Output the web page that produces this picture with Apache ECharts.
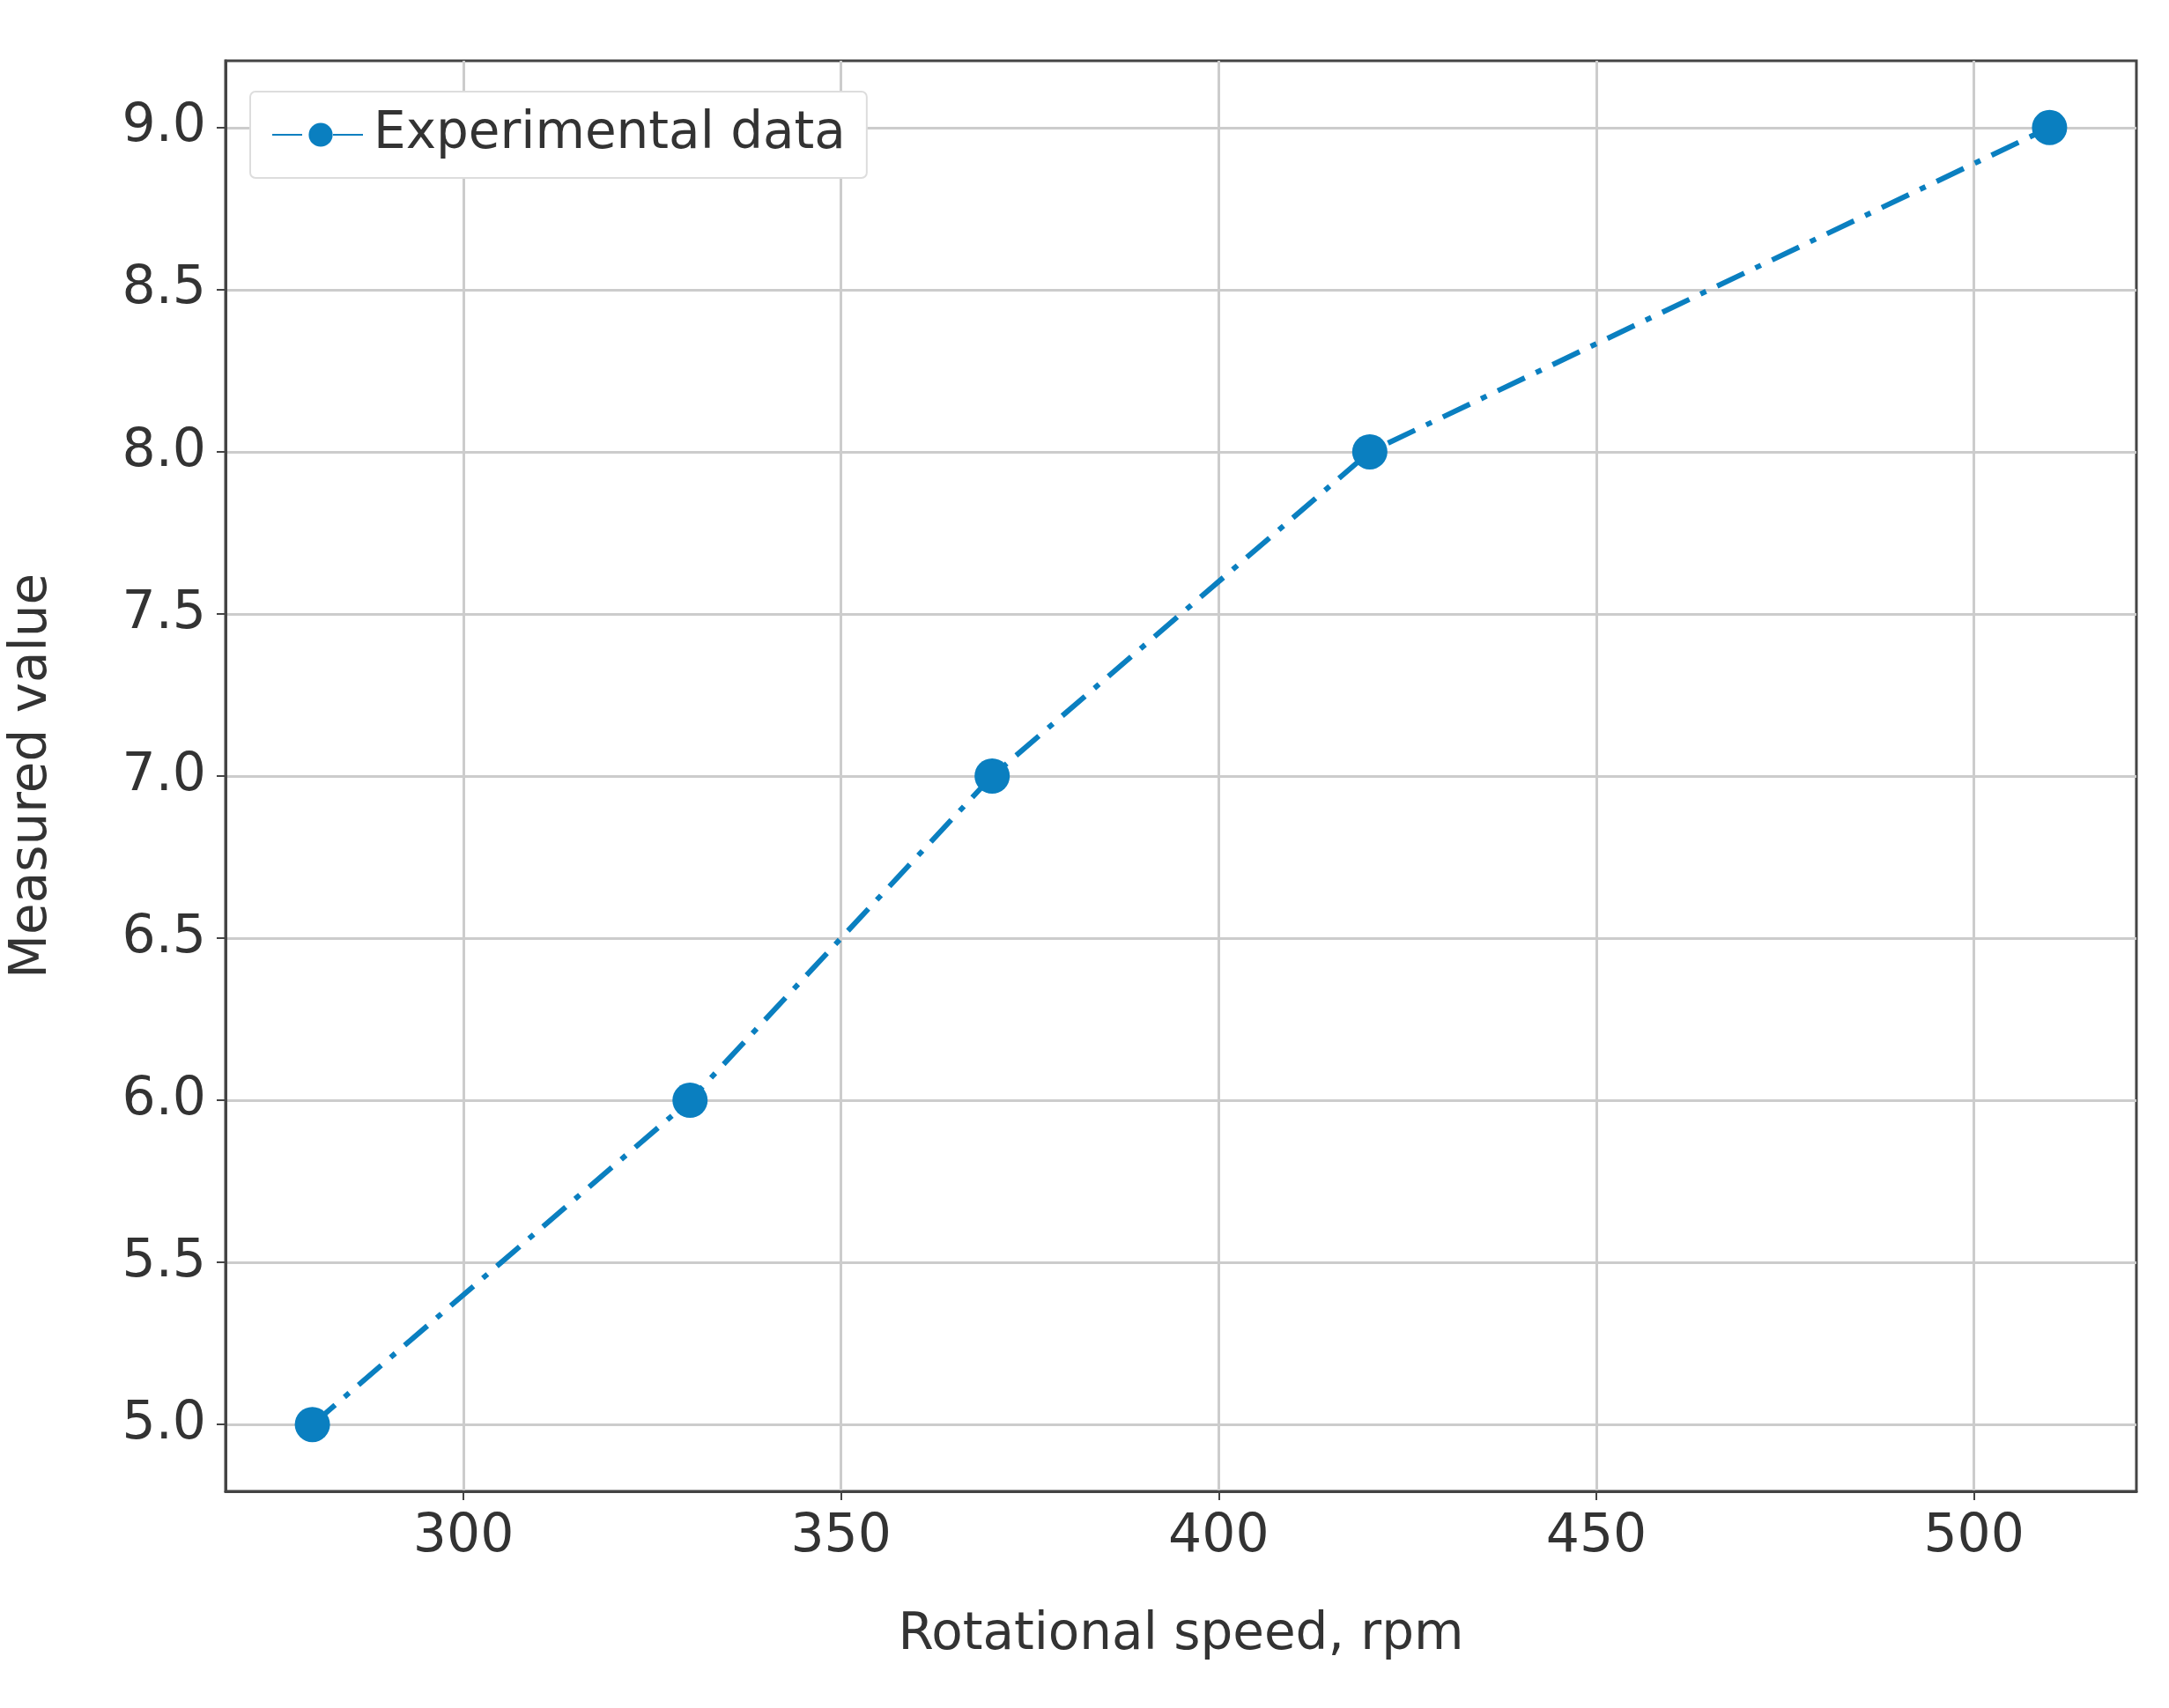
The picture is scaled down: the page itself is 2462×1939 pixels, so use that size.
<!DOCTYPE html>
<html><head><meta charset="utf-8">
<script src="https://cdn.jsdelivr.net/npm/echarts@6/dist/echarts.min.js"></script>
<style>html,body{margin:0;padding:0;background:#fff}#c{width:2462px;height:1939px}</style>
</head><body><div id="c"></div>
<script>
const speeds = [280, 330, 370, 420, 510];
const values = [5, 6, 7, 8, 9];
const xTicks = [300, 350, 400, 450, 500];
const yTicks = [5.0, 5.5, 6.0, 6.5, 7.0, 7.5, 8.0, 8.5, 9.0];
const seriesName = 'Experimental data';
const color = '#0a7fc0';
const font = 'DejaVu Sans';
const chart = echarts.init(document.getElementById('c'));
chart.setOption({
  animation: false,
  backgroundColor: '#fff',
  grid: {left: 252, right: 37, top: 69, bottom: 246, show: true, borderColor: '#444', borderWidth: 3},
  legend: {
    data: [seriesName], left: 284, top: 104, padding: [20, 24, 20, 24],
    borderColor: '#ddd', borderWidth: 2, borderRadius: 6, backgroundColor: '#fff',
    itemWidth: 110, itemHeight: 34, itemGap: 10,
    textStyle: {fontFamily: font, fontSize: 58, color: '#333'}
  },
  xAxis: {
    type: 'value', min: 268.5, max: 521.5,
    name: 'Rotational speed, rpm', nameLocation: 'middle', nameGap: 135,
    nameTextStyle: {fontFamily: font, fontSize: 58, color: '#333'},
    axisLine: {show: true, lineStyle: {color: '#444', width: 3}},
    axisTick: {show: true, customValues: xTicks, length: 10, lineStyle: {color: '#444', width: 2}},
    axisLabel: {customValues: xTicks, fontFamily: font, fontSize: 60, color: '#333', margin: 22},
    splitLine: {show: true, lineStyle: {color: '#ccc', width: 3}}
  },
  yAxis: {
    type: 'value', min: 4.794, max: 9.206,
    name: 'Measured value', nameLocation: 'middle', nameGap: 190,
    nameTextStyle: {fontFamily: font, fontSize: 58, color: '#333'},
    axisLine: {show: true, lineStyle: {color: '#444', width: 3}},
    axisTick: {show: true, customValues: yTicks, length: 10, lineStyle: {color: '#444', width: 2}},
    axisLabel: {customValues: yTicks, fontFamily: font, fontSize: 60, color: '#333', margin: 22,
      formatter: v => v.toFixed(1)},
    splitLine: {show: true, lineStyle: {color: '#ccc', width: 3}}
  },
  series: [{
    name: seriesName, type: 'line',
    data: speeds.map((s, i) => [s, values[i]]),
    symbol: 'circle', symbolSize: 40,
    itemStyle: {color: color},
    lineStyle: {color: color, width: 6, type: [34, 14, 7, 14]}
  }]
});
</script></body></html>
